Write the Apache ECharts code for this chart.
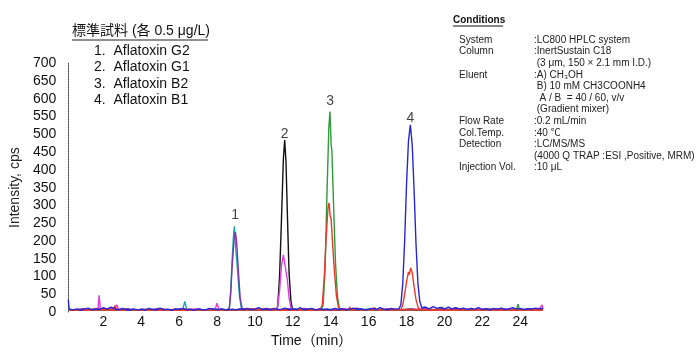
<!DOCTYPE html>
<html>
<head>
<meta charset="utf-8">
<script src="https://cdn.jsdelivr.net/npm/echarts@6/dist/echarts.min.js"></script>
<style>
html,body{margin:0;padding:0;background:#fff;}
#chart{width:700px;height:353px;}
</style>
</head>
<body>
<div id="chart"></div>
<script>
// ---- data ----
const xTickLabels = [2, 4, 6, 8, 10, 12, 14, 16, 18, 20, 22, 24];
const seriesNames = ['Aflatoxin G2 (a)', 'Aflatoxin G2 (b)', 'Aflatoxin G1 (a)', 'Aflatoxin G1 (b)', 'Aflatoxin B2 (a)', 'Aflatoxin B2 (b)', 'Aflatoxin B1 (b)', 'Aflatoxin B1 (a)'];
const peakLabels = ['1', '2', '3', '4'];
const peakLabelTimes = [8.95, 11.57, 13.97, 18.2];
const peakLabelValues = [272, 500, 593, 546];
const compoundList = ['1.  Aflatoxin G2', '2.  Aflatoxin G1', '3.  Aflatoxin B2', '4.  Aflatoxin B1'];
const condLabels = ['System', 'Column', '', 'Eluent', '', '', '', 'Flow Rate', 'Col.Temp.', 'Detection', '', 'Injection Vol.'];
const condValues = [':LC800 HPLC system', ':InertSustain C18', ' (3 μm, 150 × 2.1 mm I.D.)', ':A) CH₃OH', ' B) 10 mM CH3COONH4', '  A / B  = 40 / 60, v/v', ' (Gradient mixer)', ':0.2 mL/min', ':40 ℃', ':LC/MS/MS', '(4000 Q TRAP :ESI ,Positive, MRM)', ':10 μL'];

const g2Quant = [[0.2,6],[1.0,7],[2.0,6],[3.0,8],[4.0,6],[5.0,7],[6.0,6],[6.2,9],[6.3,30],[6.4,8],[7.0,6],[8.0,7],[8.55,6],[8.65,12],[8.72,60],[8.8,150],[8.88,225],[8.92,241],[8.97,190],[9.0,185],[9.08,120],[9.18,45],[9.28,12],[9.35,6],[10,7],[11,6],[12,7],[13,6],[14,7],[15,6],[16,8],[17,6],[18,7],[19,6],[20,8],[21,6],[22,7],[23,6],[24,7],[25.2,6]];
const g2Qual = [[0.2,8],[0.5,5],[0.9,9],[1.3,6],[1.7,10],[2.1,7],[2.5,12],[2.9,6],[3.3,9],[3.7,5],[4.1,8],[4.5,6],[4.9,10],[5.3,7],[5.7,5],[6.1,9],[6.5,6],[6.9,8],[7.3,5],[7.7,9],[8.1,7],[8.5,6],[8.65,10],[8.72,50],[8.8,130],[8.9,205],[8.97,225],[9.03,200],[9.12,120],[9.22,40],[9.32,10],[9.4,6],[9.8,9],[10.2,6],[10.6,10],[11.0,7],[11.4,5],[11.8,9],[12.2,6],[12.6,10],[13.0,7],[13.4,5],[13.8,8],[14.2,6],[14.6,9],[15.0,7],[15.4,11],[15.8,6],[16.2,8],[16.6,5],[17.0,9],[17.4,7],[17.8,6],[18.2,9],[18.6,7],[19.0,10],[19.4,6],[19.8,9],[20.2,7],[20.6,11],[21.0,6],[21.4,8],[21.8,5],[22.2,9],[22.6,7],[23.0,10],[23.4,6],[23.8,8],[24.2,6],[24.6,9],[25.0,7],[25.2,8]];
const g1Quant = [[0.2,5],[2,6],[4,5],[6,6],[8,5],[10,6],[11.1,6],[11.2,15],[11.3,100],[11.4,260],[11.5,430],[11.57,484],[11.64,420],[11.72,260],[11.8,110],[11.9,30],[11.98,8],[13,5],[15,6],[17,5],[19,6],[21,5],[23,6],[25.2,5]];
const g1Qual = [[0.2,6],[1.0,7],[1.6,6],[1.72,8],[1.78,47],[1.84,8],[2.2,7],[2.6,9],[2.7,20],[2.8,8],[3.5,6],[4.5,7],[5.5,6],[6.5,8],[7.5,6],[7.9,7],[8.0,25],[8.1,7],[8.6,6],[9.5,7],[10.5,6],[11.1,6],[11.2,15],[11.3,60],[11.4,130],[11.5,161],[11.56,140],[11.62,138],[11.7,95],[11.8,40],[11.9,12],[12.0,6],[13,7],[14,6],[15,8],[16,6],[17,7],[18,6],[19,8],[20,6],[21,7],[22,6],[23,7],[24,6],[25.0,8],[25.15,20],[25.2,8]];
const b2Quant = [[0.2,5],[2,6],[4,5],[6,6],[8,5],[10,6],[12,5],[13.5,6],[13.6,20],[13.7,120],[13.8,330],[13.9,520],[13.96,564],[14.02,470],[14.06,455],[14.15,300],[14.25,140],[14.35,45],[14.45,12],[14.52,6],[16,5],[18,6],[19.85,6],[19.9,14],[19.95,6],[22,5],[23.8,6],[23.88,22],[23.96,6],[25.2,5]];
const b2Qual = [[0.2,6],[1.5,8],[2.55,7],[2.6,18],[2.7,7],[4,6],[6,7],[8,6],[10,8],[12,6],[13.45,6],[13.55,20],[13.65,90],[13.75,200],[13.85,290],[13.91,307],[13.97,270],[14.02,262],[14.1,190],[14.2,110],[14.3,45],[14.4,15],[14.5,6],[14.95,6],[15.0,14],[15.1,6],[16.25,6],[16.3,13],[16.4,6],[18,7],[20,6],[22,7],[24,6],[25.2,7]];
const b1Qual = [[0.2,5],[3,6],[6,5],[9,6],[12,5],[15,6],[17.7,6],[17.8,20],[17.9,50],[18.0,85],[18.1,113],[18.15,105],[18.22,124],[18.3,110],[18.4,70],[18.5,35],[18.6,15],[18.7,6],[20,5],[22,6],[25.2,5]];
const b1Quant = [[0.15,35],[0.2,8],[0.4,6],[0.6,9],[0.8,5],[1.0,8],[1.2,11],[1.4,6],[1.6,9],[1.8,7],[2.0,12],[2.2,8],[2.4,14],[2.6,9],[2.8,6],[3.0,10],[3.2,7],[3.4,5],[3.6,9],[3.8,6],[4.0,8],[4.2,5],[4.4,10],[4.6,7],[4.8,6],[5.0,11],[5.2,6],[5.4,8],[5.6,5],[5.8,9],[6.0,7],[6.2,10],[6.4,6],[6.6,8],[6.8,5],[7.0,9],[7.2,7],[7.4,6],[7.6,10],[7.8,8],[8.0,6],[8.2,9],[8.4,7],[8.6,6],[8.8,8],[9.0,6],[9.2,9],[9.4,7],[9.6,10],[9.8,6],[10.0,8],[10.2,12],[10.4,7],[10.6,9],[10.8,6],[11.0,10],[11.2,7],[11.4,8],[11.6,11],[11.8,6],[12.0,9],[12.2,7],[12.4,12],[12.6,6],[12.8,8],[13.0,10],[13.2,6],[13.4,9],[13.6,7],[13.8,8],[14.0,6],[14.2,10],[14.4,7],[14.6,9],[14.8,6],[15.0,8],[15.2,11],[15.4,7],[15.6,9],[15.8,6],[16.0,8],[16.2,10],[16.4,7],[16.6,12],[16.8,8],[17.0,6],[17.2,10],[17.4,8],[17.6,9],[17.7,20],[17.8,80],[17.9,200],[18.0,360],[18.1,480],[18.2,527],[18.3,470],[18.4,340],[18.5,190],[18.6,80],[18.7,30],[18.8,12],[18.9,10],[19.0,14],[19.2,9],[19.4,15],[19.6,10],[19.8,13],[20.0,8],[20.2,14],[20.4,9],[20.6,12],[20.8,8],[21.0,11],[21.2,7],[21.4,10],[21.6,8],[21.8,12],[22.0,7],[22.2,9],[22.4,6],[22.6,10],[22.8,8],[23.0,11],[23.2,7],[23.4,9],[23.6,12],[23.8,8],[24.0,10],[24.2,7],[24.4,9],[24.6,8],[24.8,11],[25.0,9],[25.2,10]];

const traceData = [g2Quant, g2Qual, g1Quant, g1Qual, b2Quant, b2Qual, b1Qual, b1Quant];
const traceColors = ['#1fa5b3', '#7a35a8', '#111111', '#e03be0', '#2e9a3a', '#e8392a', '#ee3a2c', '#2626d6'];

// ---- chart ----
const FONT = '"Liberation Sans", Arial, "Noto Sans CJK JP", sans-serif';
const chart = echarts.init(document.getElementById('chart'), null, {renderer: 'canvas'});

const series = traceData.map((d, i) => ({
  name: seriesNames[i],
  type: 'line',
  data: d,
  showSymbol: false,
  symbol: 'none',
  lineStyle: {color: traceColors[i], width: 1.4},
  itemStyle: {color: traceColors[i]},
  z: 2 + i,
  silent: true,
  animation: false
}));

series.push({
  type: 'scatter',
  symbolSize: 0,
  data: peakLabels.map((n, i) => ({name: n, value: [peakLabelTimes[i], peakLabelValues[i]]})),
  label: {show: true, position: 'inside', formatter: p => p.name, color: '#111', fontSize: 14, fontFamily: FONT},
  z: 20,
  animation: false
});

const graphics = [];
graphics.push({type: 'text', left: 72, top: 24, style: {text: '標準試料 (各 0.5 μg/L)', font: '14px ' + FONT, fill: '#111', textVerticalAlign: 'middle'}});
graphics.push({type: 'line', shape: {x1: 72, y1: 40, x2: 208, y2: 40}, style: {stroke: '#222', lineWidth: 1}});
compoundList.forEach((t, i) => {
  graphics.push({type: 'text', x: 94, y: 51 + i * 16.4, style: {text: t, font: '14px ' + FONT, fill: '#111', textVerticalAlign: 'middle'}});
});
graphics.push({type: 'text', x: 453, y: 20, style: {text: 'Conditions', font: 'bold 10px ' + FONT, fill: '#111', textVerticalAlign: 'middle'}});
graphics.push({type: 'line', shape: {x1: 453, y1: 26, x2: 503, y2: 26}, style: {stroke: '#111', lineWidth: 1}});
condLabels.forEach((t, i) => {
  const y = 40 + i * 11.6;
  if (t) graphics.push({type: 'text', x: 459, y: y, style: {text: t, font: '10px ' + FONT, fill: '#222', textVerticalAlign: 'middle'}});
  graphics.push({type: 'text', x: 534, y: y, style: {text: condValues[i], font: '10px ' + FONT, fill: '#222', textVerticalAlign: 'middle'}});
});

chart.setOption({
  backgroundColor: '#fff',
  animation: false,
  grid: {left: 56, right: 157, top: 63.3, bottom: 35.3, containLabel: false},
  xAxis: {
    type: 'value',
    min: 0.15,
    max: 25.2,
    name: 'Time（min）',
    nameLocation: 'middle',
    nameGap: 22,
    nameTextStyle: {fontSize: 14, color: '#111', fontFamily: FONT, padding: [0, 0, 0, 12]},
    axisLine: {show: false},
    axisTick: {show: false},
    splitLine: {show: false},
    axisLabel: {customValues: xTickLabels, fontSize: 14, color: '#111', fontFamily: FONT, margin: 3}
  },
  yAxis: {
    type: 'value',
    min: 0,
    max: 700,
    interval: 50,
    name: 'Intensity, cps',
    nameLocation: 'middle',
    nameGap: 37,
    nameTextStyle: {fontSize: 14, color: '#222', fontFamily: FONT},
    axisLine: {show: true, lineStyle: {color: '#444', width: 1, type: 'dotted'}},
    axisTick: {show: false},
    splitLine: {show: false},
    axisLabel: {fontSize: 14, color: '#111', fontFamily: FONT, margin: 12}
  },
  series: series,
  graphic: graphics
});
</script>
</body>
</html>
